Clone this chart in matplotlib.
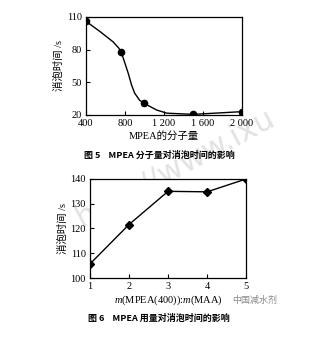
import matplotlib.pyplot as plt

plt.rcParams['font.family'] = ['Liberation Serif', 'Noto Sans CJK SC']
plt.rcParams['mathtext.fontset'] = 'custom'
plt.rcParams['mathtext.it'] = 'Liberation Serif:italic'
plt.rcParams['mathtext.rm'] = 'Liberation Serif'

# fig 5: molecular weight vs defoaming time
mw_pts = [400, 760, 1000, 1500, 2000]
t_pts = [106, 78, 30.5, 20.5, 23]
# line path
mw_line = [400, 545, 680, 740, 780, 835, 870, 900, 950, 1000, 1125, 1230, 1500, 2000]
t_line = [106, 96.5, 87, 81, 73, 58, 47, 40, 33.5, 30.5, 24.5, 21.6, 20.5, 23]

# fig 6: mass ratio vs defoaming time
ratio = [1, 2, 3, 4, 5]
t_ratio = [105.7, 121.6, 135, 134.8, 140]

fig = plt.figure(figsize=(3.18, 3.37), dpi=100)
fs = 7.5

ax1 = fig.add_axes([0.270, 0.659, 0.491, 0.291])
ax1.plot(mw_line, t_line, color='black', lw=1.0)
ax1.plot(mw_pts, t_pts, 'o', color='black', ms=4.5)
ax1.set_xlim(400, 2000)
ax1.set_ylim(20, 110)
ax1.set_xticks([400, 800, 1200, 1600, 2000])
ax1.set_xticklabels(['400', '800', '1 200', '1 600', '2 000'])
ax1.set_yticks([20, 50, 80, 110])
ax1.set_ylabel('消泡时间 /s', fontsize=fs, labelpad=2)
ax1.set_xlabel('MPEA的分子量', fontsize=fs, labelpad=2)

ax2 = fig.add_axes([0.283, 0.175, 0.491, 0.294])
ax2.plot(ratio, t_ratio, 'D-', color='black', lw=1.0, ms=4)
ax2.set_xlim(1, 5)
ax2.set_ylim(100, 140)
ax2.set_xticks(ratio)
ax2.set_yticks([100, 110, 120, 130, 140])
ax2.set_ylabel('消泡时间 /s', fontsize=fs, labelpad=2)
ax2.set_xlabel(r'$m$(MPEA(400)):$m$(MAA)', fontsize=fs, labelpad=2)

for ax in (ax1, ax2):
    ax.tick_params(direction='in', labelsize=fs, length=3, width=0.8, pad=3)
    for s in ax.spines.values():
        s.set_linewidth(0.9)

fig.text(0.50, 0.54, '图 5    MPEA 分子量对消泡时间的影响', ha='center', va='center',
         fontsize=6.5, family=['Noto Sans CJK SC'], weight='bold')
fig.text(0.50, 0.057, '图 6    MPEA 用量对消泡时间的影响', ha='center', va='center',
         fontsize=6.5, family=['Noto Sans CJK SC'], weight='bold')

# watermark
fig.text(0.55, 0.50, 'http://www.ixu', ha='center', va='center', fontsize=22,
         rotation=28, color='#e2e2e2', family=['DejaVu Sans'], zorder=-1)
fig.text(0.80, 0.11, '中国减水剂', ha='center', va='center', fontsize=6.5,
         color='#888888', family=['Noto Sans CJK SC'])

fig.savefig('out.png', dpi=100)
